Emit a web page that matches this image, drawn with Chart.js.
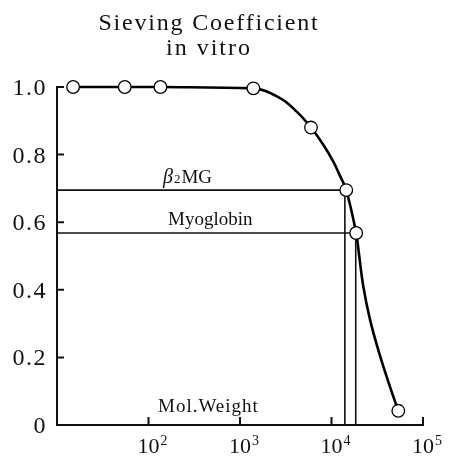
<!DOCTYPE html>
<html>
<head>
<meta charset="utf-8">
<script src="https://cdn.jsdelivr.net/npm/chart.js@4.4.1/dist/chart.umd.min.js"></script>
<style>
  html, body { margin: 0; padding: 0; background: #fff; }
  canvas { display: block; }
</style>
</head>
<body>
<canvas id="chart" width="457" height="458"></canvas>
<script>
// Sieving coefficient versus molecular weight (in vitro)

// measured points (open circles)
const molWeights = [15, 55, 135, 1400, 5970, 14500, 18600, 53700];
const sieving    = [1.0, 1.0, 1.0, 0.996, 0.88, 0.695, 0.568, 0.042];

// hand-fitted curve drawn through the measurements
const curveMW = [15, 55, 135, 1400, 2740, 4170, 5970, 8130, 10470, 12390, 14500,
                 18600, 19900, 22300, 26400, 33300, 43600, 53700];
const curveSC = [1.0, 1.0, 1.0, 0.996, 0.967, 0.927, 0.88, 0.829, 0.779, 0.737, 0.695,
                 0.568, 0.509, 0.409, 0.311, 0.212, 0.113, 0.042];

// marker substances
const b2mgMW = 14000;
const b2mgSC = 0.695;
const myoMW  = 18400;
const myoSC  = 0.568;

const xMin = 10;
const xMax = 100000;
const yTicks      = [0, 0.2, 0.4, 0.6, 0.8, 1.0];
const yTickLabels = ['0', '0.2', '0.4', '0.6', '0.8', '1.0'];
const xTicks      = [100, 1000, 10000, 100000];
const xTickExps   = ['2', '3', '4', '5'];
const titleLines  = ['Sieving Coefficient', 'in vitro'];
const xAxisLabel  = 'Mol.Weight';
const myoLabel    = 'Myoglobin';

const SERIF = '"Liberation Serif", "DejaVu Serif", serif';

const markerPoints = molWeights.map((m, i) => ({ x: m, y: sieving[i] }));
const curvePoints  = curveMW.map((m, i) => ({ x: m, y: curveSC[i] }));
const b2mgGuide = [{ x: xMin, y: b2mgSC }, { x: b2mgMW, y: b2mgSC }, { x: b2mgMW, y: 0 }];
const myoGuide  = [{ x: xMin, y: myoSC },  { x: myoMW,  y: myoSC },  { x: myoMW,  y: 0 }];

// ticks, tick labels, title and text annotations
const decorations = {
  id: 'decorations',
  afterDraw(chart) {
    const ctx = chart.ctx;
    const xs = chart.scales.x;
    const ys = chart.scales.y;
    const left = chart.chartArea.left;
    const bottom = chart.chartArea.bottom;
    ctx.save();
    ctx.strokeStyle = '#111';
    ctx.fillStyle = '#111';
    ctx.lineWidth = 2;

    // inward tick marks
    ctx.beginPath();
    yTicks.forEach(v => {
      if (v === 0) return;
      const py = ys.getPixelForValue(v);
      ctx.moveTo(left, py);
      ctx.lineTo(left + 7, py);
    });
    xTicks.forEach(v => {
      const px = xs.getPixelForValue(v);
      ctx.moveTo(px, bottom);
      ctx.lineTo(px, bottom - 8);
    });
    ctx.stroke();

    // y tick labels
    ctx.font = '24px ' + SERIF;
    ctx.textAlign = 'right';
    ctx.textBaseline = 'alphabetic';
    ctx.letterSpacing = '1.5px';
    yTicks.forEach((v, i) => {
      const py = ys.getPixelForValue(v);
      ctx.fillText(yTickLabels[i], left - 10, py + 8);
    });

    // x tick labels: 10 with superscript exponent
    ctx.letterSpacing = '0px';
    xTicks.forEach((v, i) => {
      const px = xs.getPixelForValue(v);
      ctx.font = '22px ' + SERIF;
      ctx.textAlign = 'center';
      ctx.fillText('10', px, bottom + 28);
      const w = ctx.measureText('10').width;
      ctx.font = '14px ' + SERIF;
      ctx.textAlign = 'left';
      ctx.fillText(xTickExps[i], px + w / 2 + 1, bottom + 20);
    });

    // title
    ctx.font = '24px ' + SERIF;
    ctx.textAlign = 'center';
    ctx.letterSpacing = '1.8px';
    ctx.fillText(titleLines[0], 209, 30);
    ctx.letterSpacing = '2px';
    ctx.fillText(titleLines[1], 209, 55);

    // marker labels
    ctx.letterSpacing = '0px';
    ctx.textAlign = 'left';
    const yb = ys.getPixelForValue(b2mgSC) - 7;
    let x = 163;
    ctx.font = 'italic 20px ' + SERIF;
    ctx.fillText('\u03B2', x, yb);
    x += ctx.measureText('\u03B2').width + 1;
    ctx.font = '13px ' + SERIF;
    ctx.fillText('2', x, yb);
    x += ctx.measureText('2').width + 1;
    ctx.font = '19px ' + SERIF;
    ctx.fillText('MG', x, yb);

    const ym = ys.getPixelForValue(myoSC) - 8;
    ctx.font = '19px ' + SERIF;
    ctx.fillText(myoLabel, 168, ym);

    ctx.letterSpacing = '1px';
    ctx.fillText(xAxisLabel, 158, bottom - 13);
    ctx.restore();
  }
};

new Chart(document.getElementById('chart'), {
  type: 'scatter',
  data: {
    datasets: [
      {
        data: markerPoints,
        order: 0,
        showLine: false,
        pointRadius: 6.3,
        pointBackgroundColor: '#fff',
        pointBorderColor: '#000',
        pointBorderWidth: 1.3,
        clip: false
      },
      {
        data: curvePoints,
        order: 1,
        showLine: true,
        borderColor: '#000',
        borderWidth: 2.6,
        tension: 0.4,
        pointRadius: 0,
        clip: false
      },
      {
        data: b2mgGuide,
        order: 2,
        showLine: true,
        borderColor: '#111',
        borderWidth: 1.6,
        pointRadius: 0,
        tension: 0,
        clip: false
      },
      {
        data: myoGuide,
        order: 2,
        showLine: true,
        borderColor: '#111',
        borderWidth: 1.6,
        pointRadius: 0,
        tension: 0,
        clip: false
      }
    ]
  },
  options: {
    responsive: false,
    devicePixelRatio: 1,
    animation: false,
    events: [],
    layout: { padding: { left: 57, top: 87, right: 34, bottom: 33 } },
    plugins: {
      legend: { display: false },
      tooltip: { enabled: false },
      title: { display: false }
    },
    scales: {
      x: {
        type: 'logarithmic',
        min: xMin,
        max: xMax,
        grid: { display: false, drawTicks: false },
        ticks: { display: false },
        border: { display: true, color: '#111', width: 2 }
      },
      y: {
        type: 'linear',
        min: 0,
        max: 1,
        grid: { display: false, drawTicks: false },
        ticks: { display: false },
        border: { display: true, color: '#111', width: 2 }
      }
    }
  },
  plugins: [decorations]
});
</script>
</body>
</html>
